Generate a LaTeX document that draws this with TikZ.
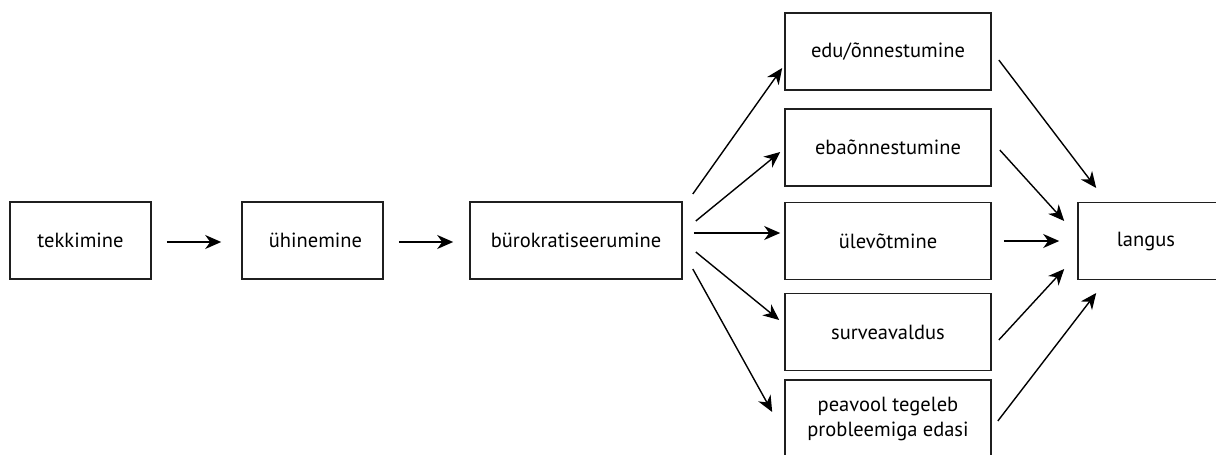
\documentclass[tikz,border=0pt]{standalone}
\usepackage{fontspec}
\setmainfont{PT Sans}
\usetikzlibrary{arrows.meta,calc}

\begin{document}
\begin{tikzpicture}[x=1pt,y=-1pt,
  stagebox/.style={draw=black!88,line width=1.6pt,rectangle,inner sep=0pt,
    minimum height=77pt,align=center,font=\fontsize{20.5}{25}\selectfont},
  flow/.style={draw=black,line width=1.4pt,
    -{Stealth[length=16pt,width=14pt,inset=5pt]}}]
\clip (0,0) rectangle (1216,455);
\fill[white] (0,0) rectangle (1216,455);

% main chain
\node[stagebox,minimum width=141pt] (tek) at (80.5,240.5) {tekkimine};
\node[stagebox,minimum width=141pt] (uhi) at (312.5,240.5) {\hspace*{6pt}ühinemine};
\node[stagebox,minimum width=212pt] (bur) at (576,240.5) {bürokratiseerumine};

% outcomes
\node[stagebox,minimum width=206pt] (edu)  at (888,51.5)  {edu/õnnestumine};
\node[stagebox,minimum width=206pt] (eba)  at (888,147.5) {ebaõnnestumine};
\node[stagebox,minimum width=206pt] (ule)  at (888,241)   {ülevõtmine};
\node[stagebox,minimum width=206pt] (sur)  at (888,332)   {surveavaldus};
\node[stagebox,minimum width=206pt] (pea)  at (888,418.5) {peavool tegeleb\\probleemiga edasi};

% end state
\node[stagebox,minimum width=144pt] (lan) at (1150,241) {langus\hspace*{8pt}};

% chain arrows
\draw[flow] ($(tek.east)+(15,1.5)$) -- ($(uhi.west)+(-20,1.5)$);
\draw[flow] ($(uhi.east)+(15,1.5)$) -- ($(bur.west)+(-16,1.5)$);

% fan out
\draw[flow] ($(bur.east)+(10,-46.5)$) -- ($(edu.west)+(-2,16.5)$);
\draw[flow] ($(bur.east)+(13,-19.5)$) -- ($(eba.west)+(-4,4.5)$);
\draw[flow] ($(bur.east)+(11,-7.5)$)  -- ($(ule.west)+(-4,-8)$);
\draw[flow] ($(bur.east)+(13,11.5)$)  -- ($(sur.west)+(-5,-12)$);
\draw[flow] ($(bur.east)+(10,28.5)$)  -- ($(pea.west)+(-12,-6.5)$);

% fan in
\draw[flow] ($(edu.east)+(7,8.5)$) -- ($(lan.west)+(19,-53)$);
\draw[flow] ($(eba.east)+(8,2.5)$) -- ($(lan.west)+(-13,-20)$);
\draw[flow] ($(ule.east)+(12,0)$)  -- ($(lan.west)+(-18,0)$);
\draw[flow] ($(sur.east)+(7,8)$)   -- ($(lan.west)+(-13,28)$);
\draw[flow] ($(pea.east)+(6,2.5)$) -- ($(lan.west)+(19,52)$);
\end{tikzpicture}
\end{document}
